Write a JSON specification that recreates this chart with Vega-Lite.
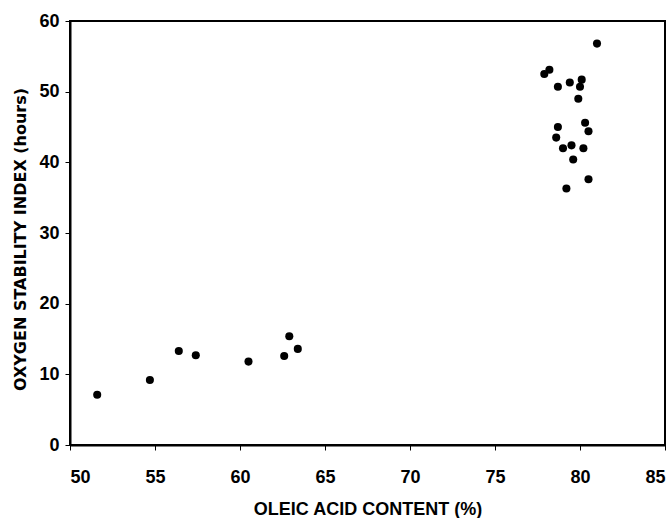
{
  "$schema": "https://vega.github.io/schema/vega-lite/v6.json",
  "width": 595,
  "height": 424,
  "autosize": "none",
  "padding": {"left": 70, "top": 21, "right": 7, "bottom": 73},
  "background": "white",
  "config": {
    "view": {"stroke": "black", "strokeWidth": 2},
    "font": "Liberation Sans"
  },
  "data": {
    "values": [
      {"oleic": 51.6, "osi": 7.1},
      {"oleic": 54.7, "osi": 9.2},
      {"oleic": 56.4, "osi": 13.3},
      {"oleic": 57.4, "osi": 12.7},
      {"oleic": 60.5, "osi": 11.8},
      {"oleic": 62.6, "osi": 12.6},
      {"oleic": 62.9, "osi": 15.4},
      {"oleic": 63.4, "osi": 13.6},
      {"oleic": 81.0, "osi": 56.8},
      {"oleic": 77.9, "osi": 52.5},
      {"oleic": 78.2, "osi": 53.1},
      {"oleic": 78.7, "osi": 50.7},
      {"oleic": 79.4, "osi": 51.3},
      {"oleic": 80.1, "osi": 51.7},
      {"oleic": 80.0, "osi": 50.7},
      {"oleic": 79.9, "osi": 49.0},
      {"oleic": 78.7, "osi": 45.0},
      {"oleic": 80.3, "osi": 45.6},
      {"oleic": 80.5, "osi": 44.4},
      {"oleic": 78.6, "osi": 43.5},
      {"oleic": 79.0, "osi": 42.0},
      {"oleic": 79.5, "osi": 42.4},
      {"oleic": 80.2, "osi": 42.0},
      {"oleic": 79.6, "osi": 40.4},
      {"oleic": 80.5, "osi": 37.6},
      {"oleic": 79.2, "osi": 36.3}
    ]
  },
  "mark": {"type": "circle", "color": "black", "opacity": 1, "size": 65},
  "encoding": {
    "x": {
      "field": "oleic",
      "type": "quantitative",
      "scale": {"domain": [50, 85], "nice": false, "zero": false},
      "axis": {
        "values": [50, 55, 60, 65, 70, 75, 80, 85],
        "title": "OLEIC ACID CONTENT (%)",
        "grid": false,
        "domainColor": "black",
        "domainWidth": 2,
        "tickColor": "black",
        "tickSize": 5,
        "labelFontSize": 18,
        "labelFontWeight": "bold",
        "labelColor": "black",
        "labelPadding": 18,
        "titleFontSize": 18,
        "titleFontWeight": "bold",
        "titleColor": "black",
        "titleBaseline": "alphabetic",
        "titleY": 69
      }
    },
    "y": {
      "field": "osi",
      "type": "quantitative",
      "scale": {"domain": [0, 60], "nice": false},
      "axis": {
        "values": [0, 10, 20, 30, 40, 50, 60],
        "title": "OXYGEN STABILITY INDEX (hours)",
        "grid": false,
        "domainColor": "black",
        "domainWidth": 2,
        "tickColor": "black",
        "tickSize": 5,
        "labelFontSize": 18,
        "labelFontWeight": "bold",
        "labelColor": "black",
        "labelPadding": 6,
        "titleFont": "DejaVu Sans",
        "titleFontSize": 16,
        "titleFontWeight": "bold",
        "titleColor": "black",
        "titlePadding": 10,
        "titleY": 218
      }
    }
  }
}
